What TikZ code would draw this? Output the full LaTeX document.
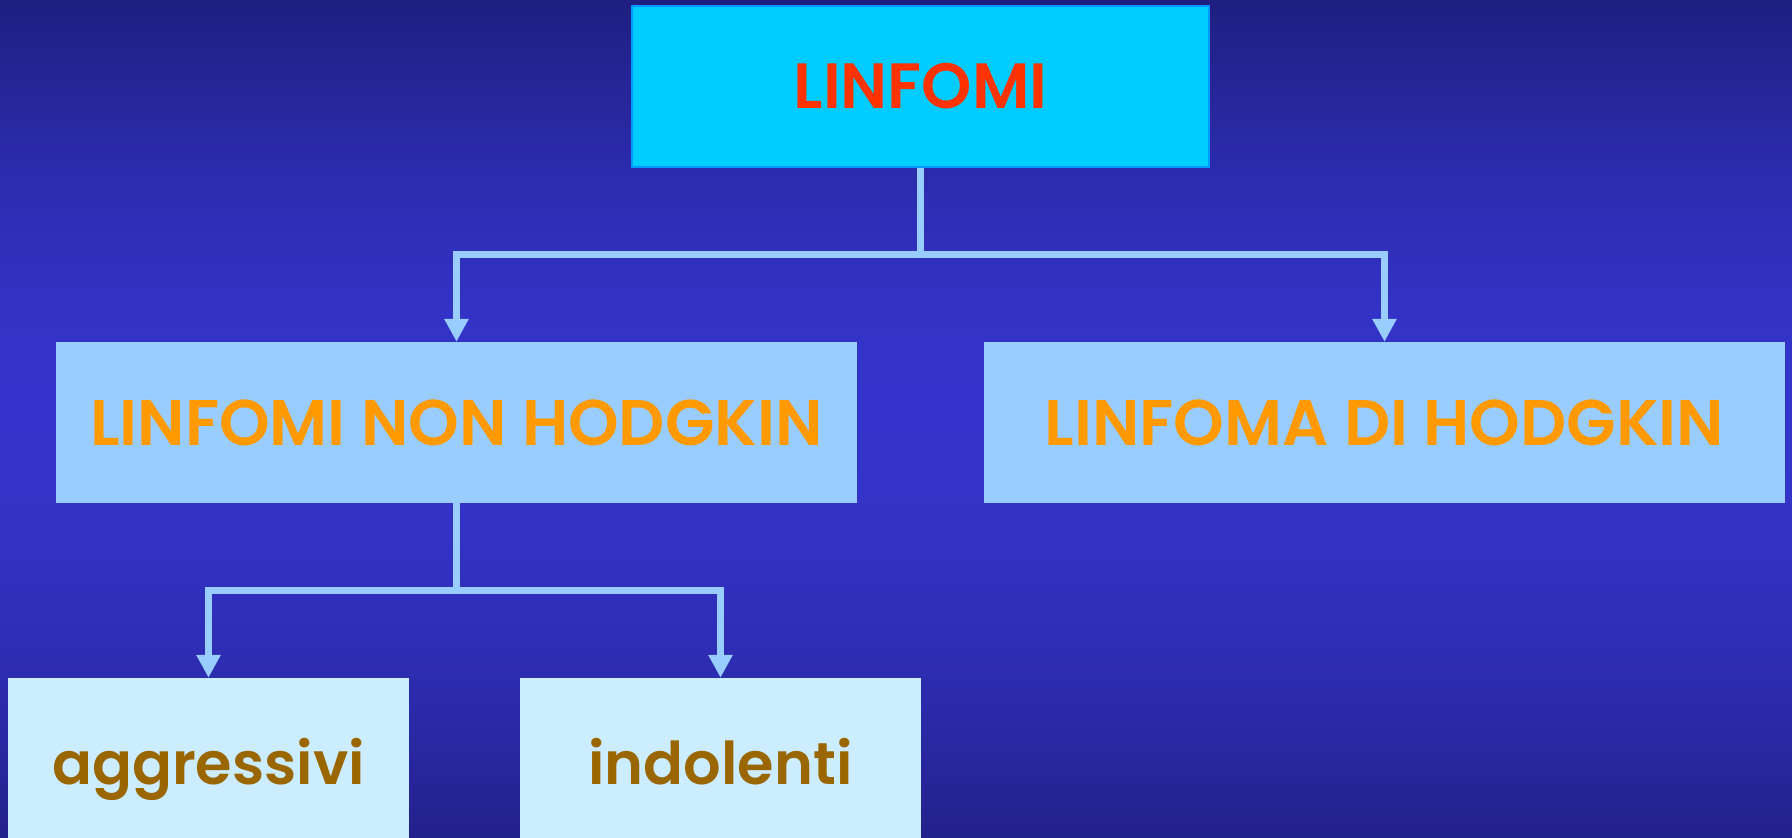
\documentclass[tikz,border=0pt]{standalone}
\usepackage{fontspec}
\setmainfont{Poppins}[BoldFont={Poppins SemiBold}]
\usetikzlibrary{arrows.meta}
\definecolor{bgtop}{HTML}{1E1F80}
\definecolor{bgmid}{HTML}{3434CC}
\definecolor{bgbot}{HTML}{22218A}
\definecolor{topfill}{HTML}{00CCFF}
\definecolor{topedge}{HTML}{0099FF}
\definecolor{redtxt}{HTML}{FF3300}
\definecolor{midfill}{HTML}{99CCFF}
\definecolor{orangetxt}{HTML}{FF9900}
\definecolor{lowfill}{HTML}{CCECFF}
\definecolor{browntxt}{HTML}{996600}
\definecolor{linkcol}{HTML}{99CCFF}
\tikzset{
  topbox/.style={draw=topedge, line width=2pt, fill=topfill, text=redtxt, minimum width=577pt, minimum height=161pt, inner sep=0pt, font=\fontsize{64}{64}\selectfont\bfseries},
  midbox/.style={fill=midfill, text=orangetxt, minimum width=801pt, minimum height=161pt, inner sep=0pt, font=\fontsize{64.5}{64.5}\selectfont\bfseries},
  lowbox/.style={fill=lowfill, text=browntxt, minimum width=401pt, minimum height=160pt, inner sep=0pt, text height=52pt, text depth=0pt, font=\fontsize{59}{59}\selectfont\bfseries},
  link/.style={draw=linkcol, line width=7pt},
  arrowlink/.style={link, -{Triangle[length=23pt, width=23pt]}}
}
\begin{document}
\begin{tikzpicture}[x=1pt, y=-1pt]
\useasboundingbox (0,0) rectangle (1792,838);
\foreach \i in {0,...,209} {
  \pgfmathsetmacro{\ya}{\i*4}
  \pgfmathsetmacro{\yb}{\i*4+4.5}
  \ifdim\ya pt<400pt
    \pgfmathtruncatemacro{\p}{100*(1.0001-\ya/400)^1.6}
    \fill[bgtop!\p!bgmid] (0,\ya) rectangle (1792,\yb);
  \else
    \pgfmathtruncatemacro{\p}{100*((\ya-399)/439)^1.8}
    \fill[bgbot!\p!bgmid] (0,\ya) rectangle (1792,\yb);
  \fi
}
\node[topbox] (lin) at (920.5,86.5) {LINFOMI};
\node[midbox] (nhl) at (456.5,422.5) {LINFOMI NON HODGKIN};
\node[midbox] (hl) at (1384.5,422.5) {LINFOMA DI HODGKIN};
\node[lowbox] (agg) at (208.5,758) {aggressivi};
\node[lowbox] (ind) at (720.5,758) {indolenti};
\coordinate (j1) at (920.5,254);
\coordinate (j2) at (456.5,590);
\draw[link] (lin.south) -- (j1);
\draw[arrowlink] (j1) -| (nhl.north);
\draw[arrowlink] (j1) -| (hl.north);
\draw[link] (nhl.south) -- (j2);
\draw[arrowlink] (j2) -| (agg.north);
\draw[arrowlink] (j2) -| (ind.north);
\end{tikzpicture}
\end{document}
